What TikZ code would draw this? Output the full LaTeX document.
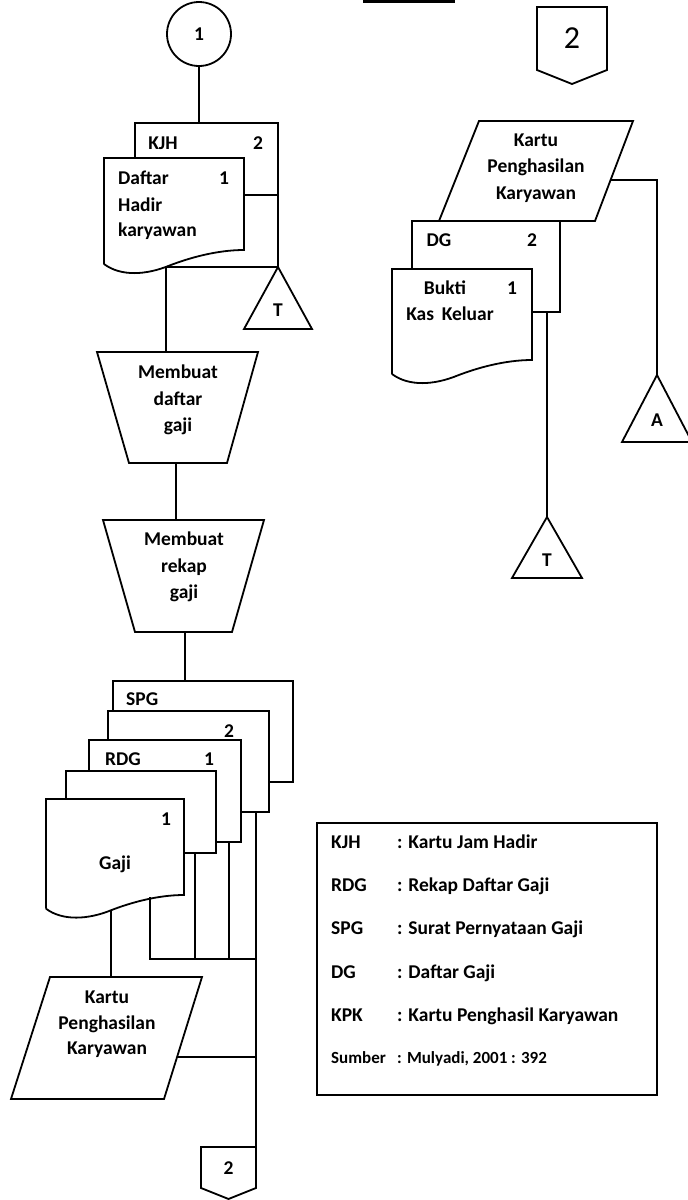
\documentclass[tikz,border=0pt]{standalone}
\usepackage{fontspec}
\setmainfont{Carlito}
\usetikzlibrary{calc}
\begin{document}
\begin{tikzpicture}[x=1pt,y=-1pt,
  ln/.style={line width=1.8pt, line join=miter},
  lb/.style={font=\fontsize{19.5}{23}\selectfont\bfseries, inner sep=0pt, anchor=base},
  lbw/.style={lb, anchor=base west}]
\useasboundingbox (0,0) rectangle (688,1200);

% stray line at the top edge
\coordinate (st1) at (363,1.5);
\coordinate (st2) at (455,1.5);
\draw[line width=2.2pt] (st1) -- (st2);

% ---------------- left column ----------------
\node[ln, draw, circle, minimum size=64pt, inner sep=0pt,
      font=\fontsize{19.5}{23}\selectfont\bfseries] (c1) at (199,34) {1};
\coordinate (kjhTop) at (199,123);
\draw[ln] (c1.south) -- (kjhTop);

% KJH copy 2 (back)
\draw[ln] (135,158) -- (135,123) -- (278,123) -- (278,195) -- (244,195);
% Daftar hadir karyawan copy 1 (front)
\draw[ln] (104,264) -- (104,158) -- (244,158) -- (244,250)
  .. controls (216,250) and (188,258.4) .. (169.8,265.4)
  .. controls (146,275.2) and (120.8,276.6) .. (104,264);
\node[lb] (kjh) at (163,149) {KJH};
\node[lb] (kjh2) at (258,149) {2};
\node[lbw] (dh1) at (118,184) {Daftar};
\node[lbw] (dh2) at (118,211) {Hadir};
\node[lbw] (dh3) at (118,236) {karyawan};
\node[lb] (dhn) at (224,184) {1};

\coordinate (kjhR) at (278,195);
\coordinate (t1apex) at (278,267);
\coordinate (dhOut) at (166,267);
\draw[ln] (kjhR) -- (t1apex);
\draw[ln] (dhOut) -- (t1apex);
\draw[ln] (t1apex) -- (312,329) -- (244,329) -- cycle;
\node[lb] (t1) at (278,316) {T};

\coordinate (tr1Top) at (166,352);
\draw[ln] (dhOut) -- (tr1Top);

% Membuat daftar gaji
\draw[ln] (97,352) -- (258,352) -- (227,463) -- (129,463) -- cycle;
\node[lb] (m1a) at (178,378) {Membuat};
\node[lb] (m1b) at (178,405) {daftar};
\node[lb] (m1c) at (178,431) {gaji};
\coordinate (tr1B) at (176,463);
\coordinate (tr2T) at (176,520);
\draw[ln] (tr1B) -- (tr2T);

% Membuat rekap gaji
\draw[ln] (103,520) -- (264,520) -- (232,632) -- (135,632) -- cycle;
\node[lb] (m2a) at (184,545) {Membuat};
\node[lb] (m2b) at (184,572) {rekap};
\node[lb] (m2c) at (184,598) {gaji};
\coordinate (tr2B) at (185,632);
\coordinate (spgT) at (185,681);
\draw[ln] (tr2B) -- (spgT);

% document stack
\draw[ln] (113,711) -- (113,681) -- (293,681) -- (293,782) -- (269,782);
\draw[ln] (108,740) -- (108,711) -- (269,711) -- (269,812) -- (242,812);
\draw[ln] (89,771) -- (89,740) -- (241,740) -- (241,842) -- (216,842);
\draw[ln] (66,799) -- (66,771) -- (216,771) -- (216,853) -- (184,853);
\draw[ln] (46,908.7) -- (46,799) -- (184,799) -- (184,895)
  .. controls (156.6,895) and (129.2,903.2) .. (111.4,910.1)
  .. controls (88.1,919.7) and (62.4,921) .. (46,908.7);
\node[lbw] (spg) at (126,705) {SPG};
\node[lb] (spgn) at (229,737) {2};
\node[lbw] (rdg) at (105,765) {RDG};
\node[lb] (rdgn) at (209,765) {1};
\node[lb] (gjn) at (166,825) {1};
\node[lb] (gj) at (115,869) {Gaji};

% flow lines below the stack
\coordinate (gjA) at (111,910);
\coordinate (gjB) at (150,897);
\coordinate (gjBd) at (150,959);
\coordinate (d4a) at (195,853);
\coordinate (d4b) at (195,959);
\coordinate (rdA) at (229,842);
\coordinate (rdB) at (229,959);
\coordinate (d2a) at (256,812);
\coordinate (jn1) at (256,959);
\coordinate (jn2) at (256,1057);
\coordinate (c2t) at (256,1147);
\draw[ln] (gjB) -- (gjBd) -- (jn1);
\draw[ln] (d4a) -- (d4b);
\draw[ln] (rdA) -- (rdB);
\draw[ln] (d2a) -- (c2t);

% Kartu Penghasilan Karyawan (bottom left)
\coordinate (p1tl) at (50,977);
\coordinate (p1tr) at (202,977);
\coordinate (p1br) at (164,1099);
\coordinate (p1bl) at (11,1099);
\draw[ln] (p1tl) -- (p1tr) -- (p1br) -- (p1bl) -- cycle;
\coordinate (p1top) at (111,977);
\draw[ln] (gjA) -- (p1top);
\coordinate (p1r) at ($(p1tr)!0.656!(p1br)$);
\draw[ln] (p1r) -- (jn2);
\node[lb] (k1a) at (107,1003) {Kartu};
\node[lb] (k1b) at (107,1029) {Penghasilan};
\node[lb] (k1c) at (107,1054) {Karyawan};

% off-page connector 2 (bottom)
\draw[ln] (201,1147) -- (256,1147) -- (256,1188) -- (228.5,1199) -- (201,1188) -- cycle;
\node[lb, anchor=center] (c2b) at (228.5,1168) {2};

% ---------------- right column ----------------
\draw[ln] (537,7) -- (607,7) -- (607,70) -- (572,84) -- (537,70) -- cycle;
\node[font=\fontsize{32}{36}\selectfont, inner sep=0pt] (c2top) at (572,38) {2};

% Kartu Penghasilan Karyawan (top right)
\coordinate (p2tl) at (479,121);
\coordinate (p2tr) at (633,121);
\coordinate (p2br) at (595,221);
\coordinate (p2bl) at (439,221);
\draw[ln] (p2tl) -- (p2tr) -- (p2br) -- (p2bl) -- cycle;
\node[lb] (k2a) at (536,146) {Kartu};
\node[lb] (k2b) at (536,172) {Penghasilan};
\node[lb] (k2c) at (536,199) {Karyawan};
\coordinate (p2r) at ($(p2tr)!0.59!(p2br)$);
\coordinate (aCorner) at (657,180);
\coordinate (aApex) at (657,375);
\draw[ln] (p2r) -- (aCorner) -- (aApex);
\draw[ln] (aApex) -- (692,442) -- (622,442) -- cycle;
\node[lb] (alab) at (657,426) {A};

% DG copy 2
\draw[ln] (412,269) -- (412,221) -- (560,221) -- (560,312) -- (532,312);
% Bukti Kas Keluar copy 1
\draw[ln] (392,374) -- (392,269) -- (532,269) -- (532,360)
  .. controls (504,360) and (476,368.4) .. (457.8,375.4)
  .. controls (434,385.2) and (408.8,386.6) .. (392,374);
\node[lb] (dg) at (439,246) {DG};
\node[lb] (dgn) at (532,246) {2};
\node[lb] (bk) at (445,294) {Bukti};
\node[lb] (bkn) at (512,294) {1};
\node[lb] (kk) at (450,320) {Kas\, Keluar};
\coordinate (dgOut) at (547,312);
\coordinate (t2apex) at (547,517);
\draw[ln] (dgOut) -- (t2apex);
\draw[ln] (t2apex) -- (582,578) -- (512,578) -- cycle;
\node[lb] (t2) at (547,566) {T};

% ---------------- legend ----------------
\node[ln, draw, minimum width=340pt, minimum height=272pt, inner sep=0pt,
      anchor=north west] (leg) at (316,822) {};
\node[lbw] (l1a) at (331,848) {KJH};
\node[lbw] (l1b) at (397,848) {: Kartu Jam Hadir};
\node[lbw] (l2a) at (331,891) {RDG};
\node[lbw] (l2b) at (397,891) {: Rekap Daftar Gaji};
\node[lbw] (l3a) at (331,934) {SPG};
\node[lbw] (l3b) at (397,934) {: Surat Pernyataan Gaji};
\node[lbw] (l4a) at (331,978) {DG};
\node[lbw] (l4b) at (397,978) {: Daftar Gaji};
\node[lbw] (l5a) at (331,1021) {KPK};
\node[lbw] (l5b) at (397,1021) {: Kartu Penghasil Karyawan};
\node[lbw, font=\fontsize{17}{20}\selectfont\bfseries] (l6a) at (331,1063) {Sumber};
\node[lbw, font=\fontsize{17}{20}\selectfont\bfseries] (l6b) at (397,1063) {: Mulyadi, 2001 : 392};
\end{tikzpicture}
\end{document}
